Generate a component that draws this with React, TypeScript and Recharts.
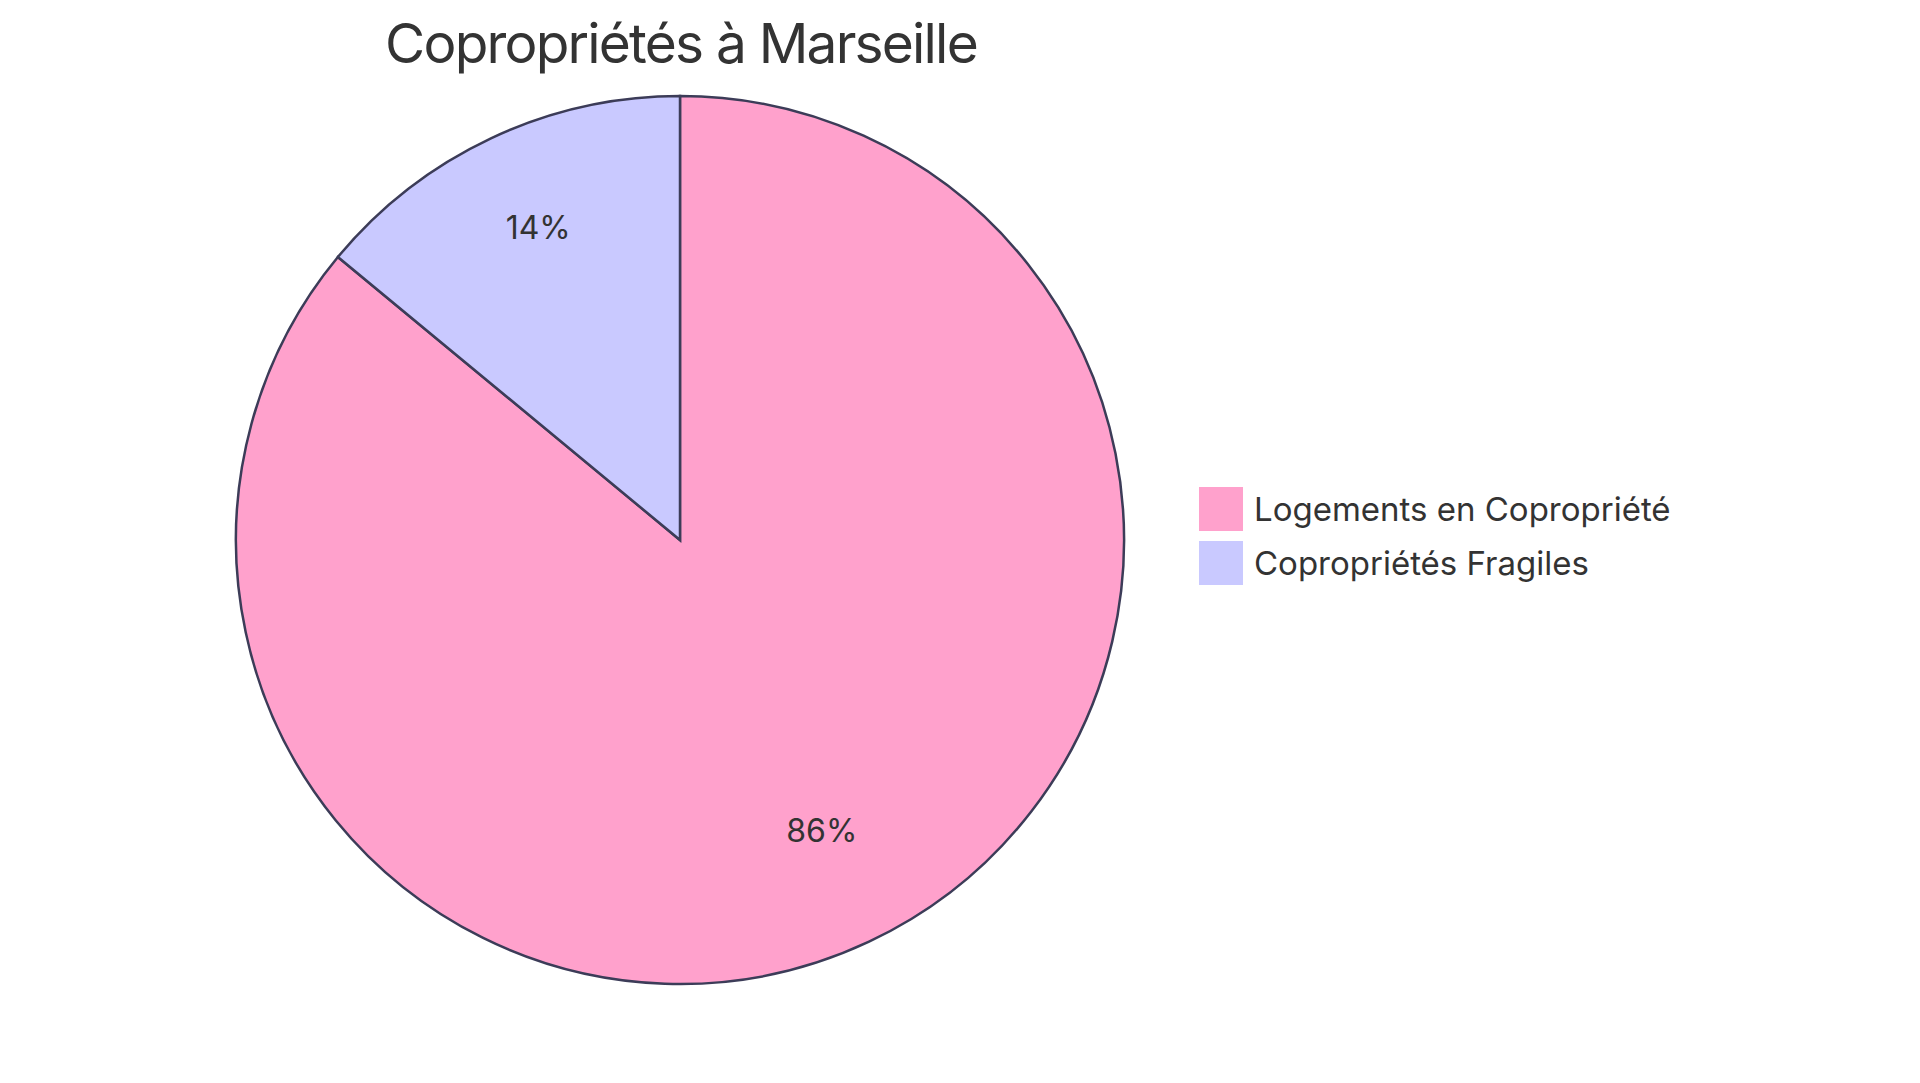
import { PieChart, Pie, Cell } from "recharts";

const categories = ["Logements en Copropriété", "Copropriétés Fragiles"];
const values = [86, 14];
const colors = ["#FFA1CC", "#C9C9FF"];
const title = "Copropriétés à Marseille";

const data = categories.map((name, i) => ({ name, value: values[i] }));

const RADIAN = Math.PI / 180;
const FONT = "Inter, 'Noto Sans', sans-serif";

const renderLabel = (props: any) => {
  const { cx, cy, midAngle, outerRadius, percent } = props;
  const r = outerRadius * 0.75;
  const x = cx + r * Math.cos(-midAngle * RADIAN);
  const y = cy + r * Math.sin(-midAngle * RADIAN) - 11;
  return (
    <text
      x={x}
      y={y}
      textAnchor="middle"
      dominantBaseline="central"
      fill="#333"
      fontSize={32}
      fontFamily={FONT}
    >
      {`${Math.round(percent * 100)}%`}
    </text>
  );
};

export default function App() {
  return (
    <div
      style={{
        position: "absolute",
        left: 0,
        top: 0,
        width: 1920,
        height: 1083,
        background: "#fff",
        fontFamily: FONT,
      }}
    >
      <div
        style={{
          position: "absolute",
          left: 681,
          top: 5,
          transform: "translateX(-50%)",
          fontSize: 55,
          letterSpacing: -1.8,
          color: "#333",
          whiteSpace: "nowrap",
          lineHeight: "76px",
        }}
      >
        {title}
      </div>
      <PieChart width={1920} height={1083} margin={{ top: 0, right: 0, bottom: 0, left: 0 }}>
        <Pie
          data={data}
          dataKey="value"
          nameKey="name"
          cx={680}
          cy={540}
          outerRadius={444}
          startAngle={90}
          endAngle={-270}
          stroke="#3c3c58"
          strokeWidth={2.5}
          label={renderLabel}
          labelLine={false}
          isAnimationActive={false}
        >
          {data.map((entry, i) => (
            <Cell key={`cell-${i}`} fill={colors[i]} />
          ))}
        </Pie>
      </PieChart>
      <div style={{ position: "absolute", left: 1199, top: 487 }}>
        {categories.map((c, i) => (
          <div
            key={c}
            style={{ display: "flex", alignItems: "center", height: 44, marginBottom: 10 }}
          >
            <div style={{ width: 44, height: 44, background: colors[i] }} />
            <span style={{ marginLeft: 11, fontSize: 33, color: "#333", whiteSpace: "nowrap" }}>
              {c}
            </span>
          </div>
        ))}
      </div>
    </div>
  );
}
